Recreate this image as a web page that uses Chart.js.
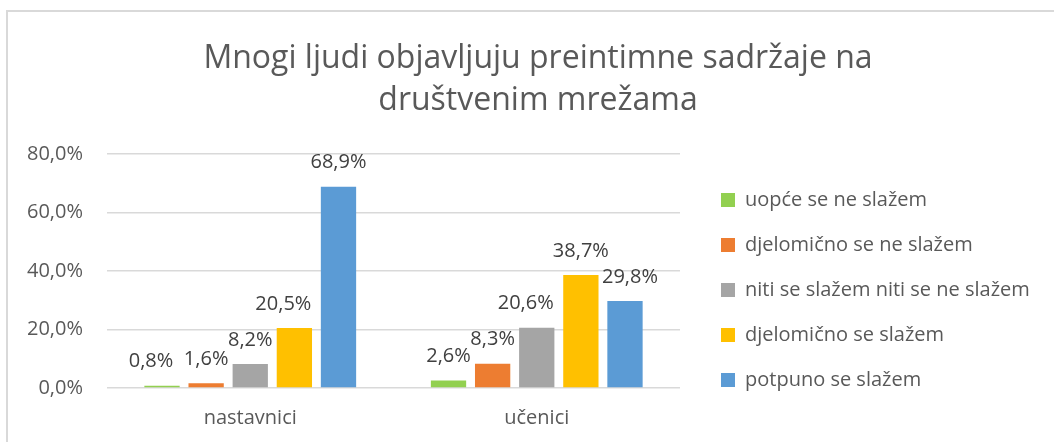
<!DOCTYPE html>
<html>
<head>
<meta charset="utf-8">
<script src="https://cdn.jsdelivr.net/npm/chart.js@4.4.1/dist/chart.umd.min.js"></script>
<style>
  html, body { margin: 0; padding: 0; background: #fff; overflow: hidden; }
  #wrap { position: relative; width: 1054px; height: 442px; }
  #frame { position: absolute; left: 6px; top: 10px; width: 1200px; height: 600px;
           border-top: 2px solid #d9d9d9; border-left: 2px solid #d9d9d9; }
  canvas { position: absolute; left: 0; top: 0; }
</style>
</head>
<body>
<div id="wrap">
  <div id="frame"></div>
  <canvas id="c" width="1054" height="442"></canvas>
</div>
<script>
const titleLines = ["Mnogi ljudi objavljuju preintimne sadržaje na", "društvenim mrežama"];
const categories = ["nastavnici", "učenici"];
const seriesNames = ["uopće se ne slažem", "djelomično se ne slažem", "niti se slažem niti se ne slažem", "djelomično se slažem", "potpuno se slažem"];
const seriesColors = ["#92D050", "#ED7D31", "#A5A5A5", "#FFC000", "#5B9BD5"];
const uopceSeNeSlazem = [0.8, 2.6];
const djelomicnoSeNeSlazem = [1.6, 8.3];
const nitiNiti = [8.2, 20.6];
const djelomicnoSeSlazem = [20.5, 38.7];
const potpunoSeSlazem = [68.9, 29.8];
const yTicks = [0, 20, 40, 60, 80];

const seriesValues = [uopceSeNeSlazem, djelomicnoSeNeSlazem, nitiNiti, djelomicnoSeSlazem, potpunoSeSlazem];
const FONT = "'Open Sans', sans-serif";
const fmt = v => v.toFixed(1).replace('.', ',') + '%';

// label nudges (style only, as in the original Excel chart)
const labelNudgeX = [[-11, 0], [0, 0], [0, -11], [-11, 0], [0, 5]];

const dataLabels = {
  id: 'dataLabels',
  afterDatasetsDraw(chart) {
    const ctx = chart.ctx;
    ctx.save();
    ctx.font = "20px " + FONT;
    ctx.fillStyle = "#404040";
    ctx.textAlign = "center";
    ctx.textBaseline = "middle";
    chart.data.datasets.forEach((ds, i) => {
      const meta = chart.getDatasetMeta(i);
      meta.data.forEach((bar, j) => {
        ctx.fillText(fmt(ds.data[j]), bar.x + labelNudgeX[i][j], bar.y - 24);
      });
    });
    ctx.restore();
  }
};

const legendFix = {
  id: 'legendFix',
  afterInit(chart) {
    const lg = chart.legend;
    const orig = lg.fit.bind(lg);
    lg.fit = function () { orig(); this.width = 374; };
  },
  afterLayout(chart) {
    const lg = chart.legend;
    lg.left = chart.chartArea.right + 16;
    lg.right = lg.left + 358;
    lg.top = 165;
    lg.bottom = 440;
  }
};

new Chart(document.getElementById('c'), {
  type: 'bar',
  data: {
    labels: categories,
    datasets: seriesNames.map((name, i) => ({
      label: name,
      data: seriesValues[i],
      backgroundColor: seriesColors[i],
      borderWidth: 0,
      barPercentage: 0.8,
      categoryPercentage: 0.77
    }))
  },
  options: {
    responsive: false,
    animation: false,
    devicePixelRatio: 1,
    layout: { padding: { left: 22, right: 0, top: 10, bottom: 12 } },
    plugins: {
      title: {
        display: true,
        text: titleLines,
        color: "#595959",
        font: { family: FONT, size: 32, weight: 'normal', lineHeight: 1.3 },
        padding: { top: 28, bottom: 33 }
      },
      legend: {
        position: 'right',
        align: 'start',
        labels: {
          color: "#595959",
          font: { family: FONT, size: 20 },
          boxWidth: 14,
          boxHeight: 14,
          padding: 25
        }
      },
      tooltip: { enabled: false }
    },
    scales: {
      x: {
        afterFit: s => { s.height = 42; },
        grid: { display: false, drawTicks: false },
        border: { display: false },
        ticks: { color: "#595959", font: { family: FONT, size: 20 }, padding: 18 }
      },
      y: {
        min: 0,
        max: 80,
        afterBuildTicks: s => { s.ticks = yTicks.map(v => ({ value: v })); },
        afterFit: s => { s.width = 85; },
        grid: { color: "#d9d9d9", lineWidth: 1.5, drawTicks: false },
        border: { display: false },
        ticks: { color: "#595959", font: { family: FONT, size: 20 }, padding: 24, callback: v => fmt(v) }
      }
    }
  },
  plugins: [dataLabels, legendFix]
});
</script>
</body>
</html>
